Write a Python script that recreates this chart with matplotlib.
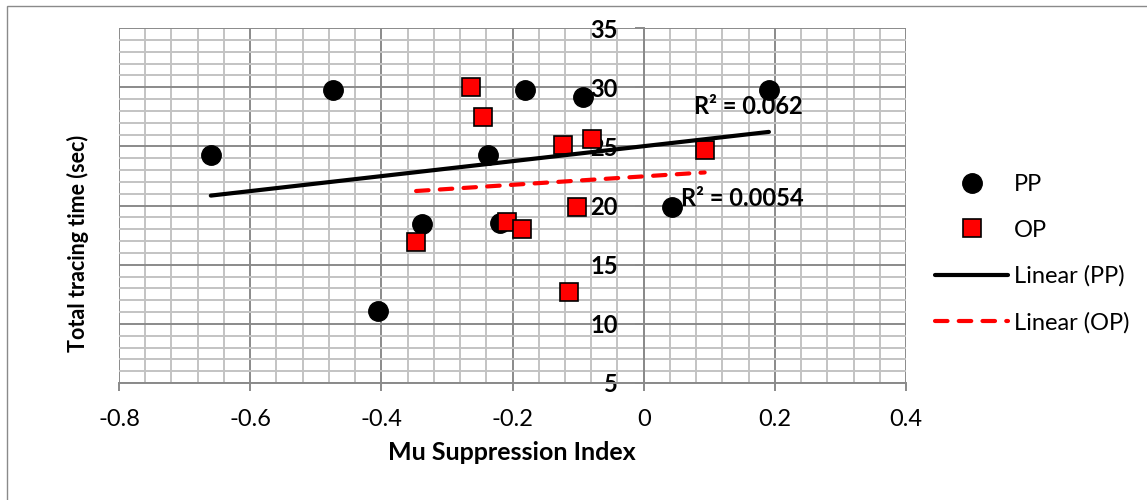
import numpy as np
import matplotlib.pyplot as plt
from matplotlib.ticker import MultipleLocator
from matplotlib.lines import Line2D

plt.rcParams['font.family'] = ['Lato', 'DejaVu Sans']

# Mu suppression index vs total tracing time, per group
pp_mu = [-0.660, -0.474, -0.405, -0.338, -0.238, -0.219, -0.181, -0.093, 0.043, 0.191]
pp_time = [24.3, 29.8, 11.1, 18.4, 24.3, 18.5, 29.8, 29.2, 19.9, 29.8]
op_mu = [-0.347, -0.263, -0.245, -0.209, -0.186, -0.123, -0.114, -0.102, -0.079, 0.093]
op_time = [16.9, 30.0, 27.5, 18.6, 18.0, 25.1, 12.7, 19.9, 25.6, 24.7]

pp_r2 = 'R² = 0.062'
op_r2 = 'R² = 0.0054'

grid_major = '#8a8a8a'
grid_minor = '#c3c3c3'
fs = 17

fig = plt.figure(figsize=(11.47, 5), dpi=100)
ax = fig.add_axes([119/1147, 117/500, 787/1147, 355/500])

# scatter points
ax.plot(pp_mu, pp_time, 'o', color='black', ms=14, zorder=3)
ax.plot(op_mu, op_time, 's', color='red', mec='black', mew=1.2, ms=13.5, zorder=3)

# linear trendlines over each series' x range
def trend(x, y):
    x = np.asarray(x)
    k, b = np.polyfit(x, y, 1)
    xs = np.array([x.min(), x.max()])
    return xs, k * xs + b

xs, ys = trend(pp_mu, pp_time)
ax.plot(xs, ys, color='black', lw=3, solid_capstyle='round', zorder=4)
xs, ys = trend(op_mu, op_time)
ax.plot(xs, ys, color='red', lw=3, ls=(0, (3, 2.7)), dash_capstyle='round', zorder=4)

ax.text(0.160, 28.4, pp_r2, fontsize=fs, fontweight='bold', ha='center', va='center', zorder=5)
ax.text(0.150, 20.6, op_r2, fontsize=fs, fontweight='bold', ha='center', va='center', zorder=5)

ax.set_xlim(-0.8, 0.4)
ax.set_ylim(5, 35)
ax.xaxis.set_major_locator(MultipleLocator(0.2))
ax.xaxis.set_minor_locator(MultipleLocator(0.04))
ax.yaxis.set_major_locator(MultipleLocator(5))
ax.yaxis.set_minor_locator(MultipleLocator(1))
ax.xaxis.set_major_formatter(lambda v, p: '0' if abs(v) < 1e-9 else f'{v:.1f}')

ax.grid(which='minor', color=grid_minor, lw=1.4)
ax.grid(which='major', color=grid_major, lw=1.4)
ax.set_axisbelow(True)

for s in ['top', 'right']:
    ax.spines[s].set_visible(False)
ax.spines['left'].set_position(('data', 0))
for s in ['left', 'bottom']:
    ax.spines[s].set_color(grid_major)
    ax.spines[s].set_linewidth(1.4)

ax.tick_params(which='minor', length=0)
ax.tick_params(axis='x', which='major', length=6, width=1.4, color=grid_major, labelsize=fs, pad=13)
ax.tick_params(axis='y', which='major', length=6.5, width=1.4, color=grid_major, labelsize=fs, pad=12)
for lab in ax.get_yticklabels():
    lab.set_fontweight('bold')

fig.text(512/1147, 1 - 460/500, 'Mu Suppression Index', fontsize=18, fontweight='bold',
         ha='center', va='baseline')
fig.text(78/1147, 1 - 243/500, 'Total tracing time (sec)', rotation=90, fontsize=15.5,
         fontweight='bold', ha='center', va='center')

handles = [
    Line2D([], [], ls='none', marker='o', color='black', ms=14),
    Line2D([], [], ls='none', marker='s', color='red', mec='black', mew=1.2, ms=13.5),
    Line2D([], [], color='black', lw=3, solid_capstyle='round'),
    Line2D([], [], color='red', lw=3, ls=(0, (3, 2.7)), dash_capstyle='round'),
]
labels = ['PP', 'OP', 'Linear (PP)', 'Linear (OP)']
fig.legend(handles, labels, loc='center left', bbox_to_anchor=(935/1147, 1 - 253.5/500),
           frameon=False, fontsize=fs, handlelength=3.1, handletextpad=0.25,
           labelspacing=1.05, borderpad=0, borderaxespad=0)

# outer chart border
fig.add_artist(plt.Rectangle((7/1147, -0.1), 1.2, 1.1 - 6/500, fill=False,
                             edgecolor='#8a8a8a', lw=1, transform=fig.transFigure))

fig.savefig('out.png', dpi=100)
